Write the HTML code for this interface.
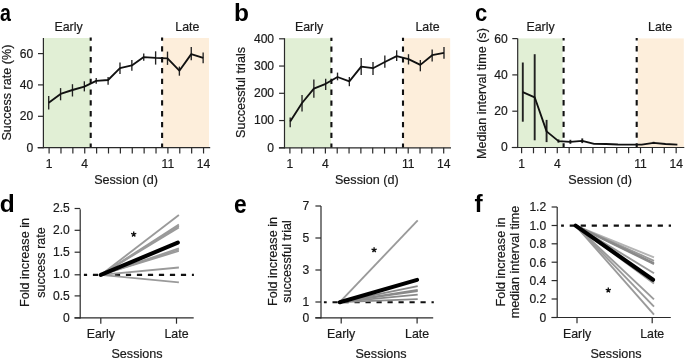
<!DOCTYPE html><html><head><meta charset="utf-8"><style>html,body{margin:0;padding:0;background:#fff;}svg{display:block;will-change:transform;}text{font-family:"Liberation Sans", sans-serif;stroke:#1a1a1a;stroke-width:0.2px;}text.L{stroke:none;}</style></head><body>
<svg width="685" height="361" viewBox="0 0 685 361">
<rect width="685" height="361" fill="#fff"/>
<rect x="43.90" y="38.00" width="46.50" height="109.70" fill="#e1efd5"/>
<rect x="162.60" y="38.00" width="46.40" height="109.70" fill="#fdeedb"/>
<line x1="90.70" y1="147.70" x2="90.70" y2="37.50" stroke="#111" stroke-width="2.1" stroke-dasharray="5.3 5.5" stroke-dashoffset="1.1"/>
<line x1="162.10" y1="147.70" x2="162.10" y2="37.50" stroke="#111" stroke-width="2.1" stroke-dasharray="5.3 5.5" stroke-dashoffset="1.1"/>
<line x1="43.40" y1="38.00" x2="43.40" y2="148.30" stroke="#2a2a2a" stroke-width="1.2" />
<line x1="37.60" y1="147.70" x2="210.20" y2="147.70" stroke="#2a2a2a" stroke-width="1.2" />
<line x1="38.00" y1="147.70" x2="43.40" y2="147.70" stroke="#2a2a2a" stroke-width="1.2" />
<text x="33.20" y="151.60" font-size="12.1" text-anchor="end" font-weight="normal" fill="#1a1a1a" >0</text>
<line x1="38.00" y1="116.30" x2="43.40" y2="116.30" stroke="#2a2a2a" stroke-width="1.2" />
<text x="33.20" y="120.20" font-size="12.1" text-anchor="end" font-weight="normal" fill="#1a1a1a" >20</text>
<line x1="38.00" y1="84.90" x2="43.40" y2="84.90" stroke="#2a2a2a" stroke-width="1.2" />
<text x="33.20" y="88.80" font-size="12.1" text-anchor="end" font-weight="normal" fill="#1a1a1a" >40</text>
<line x1="38.00" y1="53.60" x2="43.40" y2="53.60" stroke="#2a2a2a" stroke-width="1.2" />
<text x="33.20" y="57.50" font-size="12.1" text-anchor="end" font-weight="normal" fill="#1a1a1a" >60</text>
<line x1="49.10" y1="147.70" x2="49.10" y2="153.50" stroke="#2a2a2a" stroke-width="1.2" />
<line x1="60.98" y1="147.70" x2="60.98" y2="153.50" stroke="#2a2a2a" stroke-width="1.2" />
<line x1="72.86" y1="147.70" x2="72.86" y2="153.50" stroke="#2a2a2a" stroke-width="1.2" />
<line x1="84.74" y1="147.70" x2="84.74" y2="153.50" stroke="#2a2a2a" stroke-width="1.2" />
<line x1="96.62" y1="147.70" x2="96.62" y2="153.50" stroke="#2a2a2a" stroke-width="1.2" />
<line x1="108.50" y1="147.70" x2="108.50" y2="153.50" stroke="#2a2a2a" stroke-width="1.2" />
<line x1="120.38" y1="147.70" x2="120.38" y2="153.50" stroke="#2a2a2a" stroke-width="1.2" />
<line x1="132.26" y1="147.70" x2="132.26" y2="153.50" stroke="#2a2a2a" stroke-width="1.2" />
<line x1="144.14" y1="147.70" x2="144.14" y2="153.50" stroke="#2a2a2a" stroke-width="1.2" />
<line x1="156.02" y1="147.70" x2="156.02" y2="153.50" stroke="#2a2a2a" stroke-width="1.2" />
<line x1="167.90" y1="147.70" x2="167.90" y2="153.50" stroke="#2a2a2a" stroke-width="1.2" />
<line x1="179.78" y1="147.70" x2="179.78" y2="153.50" stroke="#2a2a2a" stroke-width="1.2" />
<line x1="191.66" y1="147.70" x2="191.66" y2="153.50" stroke="#2a2a2a" stroke-width="1.2" />
<line x1="203.54" y1="147.70" x2="203.54" y2="153.50" stroke="#2a2a2a" stroke-width="1.2" />
<text x="49.10" y="168.10" font-size="12.1" text-anchor="middle" font-weight="normal" fill="#1a1a1a" >1</text>
<text x="84.74" y="168.10" font-size="12.1" text-anchor="middle" font-weight="normal" fill="#1a1a1a" >4</text>
<text x="167.90" y="168.10" font-size="12.1" text-anchor="middle" font-weight="normal" fill="#1a1a1a" >11</text>
<text x="203.54" y="168.10" font-size="12.1" text-anchor="middle" font-weight="normal" fill="#1a1a1a" >14</text>
<text x="126.00" y="183.80" font-size="12.6" text-anchor="middle" font-weight="normal" fill="#1a1a1a" >Session (d)</text>
<text transform="translate(10.80,92.60) rotate(-90)" font-size="12.6" text-anchor="middle" fill="#1a1a1a">Success rate (%)</text>
<text x="68.60" y="31.00" font-size="12.4" text-anchor="middle" font-weight="normal" fill="#1a1a1a" >Early</text>
<text x="187.40" y="31.00" font-size="12.4" text-anchor="middle" font-weight="normal" fill="#1a1a1a" >Late</text>
<line x1="48.70" y1="95.90" x2="48.70" y2="109.50" stroke="#222" stroke-width="1.35" />
<line x1="60.58" y1="88.10" x2="60.58" y2="100.30" stroke="#222" stroke-width="1.35" />
<line x1="72.46" y1="84.20" x2="72.46" y2="96.50" stroke="#222" stroke-width="1.35" />
<line x1="84.34" y1="81.30" x2="84.34" y2="91.40" stroke="#222" stroke-width="1.35" />
<line x1="96.22" y1="78.00" x2="96.22" y2="83.70" stroke="#222" stroke-width="1.35" />
<line x1="108.10" y1="77.00" x2="108.10" y2="84.80" stroke="#222" stroke-width="1.35" />
<line x1="119.98" y1="62.40" x2="119.98" y2="74.00" stroke="#222" stroke-width="1.35" />
<line x1="131.86" y1="59.90" x2="131.86" y2="70.70" stroke="#222" stroke-width="1.35" />
<line x1="143.74" y1="53.60" x2="143.74" y2="60.70" stroke="#222" stroke-width="1.35" />
<line x1="155.62" y1="51.30" x2="155.62" y2="64.60" stroke="#222" stroke-width="1.35" />
<line x1="167.50" y1="51.60" x2="167.50" y2="64.90" stroke="#222" stroke-width="1.35" />
<line x1="179.38" y1="66.60" x2="179.38" y2="75.70" stroke="#222" stroke-width="1.35" />
<line x1="191.26" y1="47.00" x2="191.26" y2="60.20" stroke="#222" stroke-width="1.35" />
<line x1="203.14" y1="52.40" x2="203.14" y2="63.20" stroke="#222" stroke-width="1.35" />
<polyline points="48.70,102.80 60.58,93.90 72.46,90.00 84.34,86.60 96.22,80.80 108.10,80.00 119.98,68.20 131.86,65.40 143.74,57.10 155.62,57.90 167.50,58.30 179.38,70.70 191.26,54.10 203.14,57.90" fill="none" stroke="#111" stroke-width="1.85" stroke-linejoin="round" />
<text transform="translate(0.1,20.6) scale(0.8,1.0)" font-size="24.5" font-weight="bold" fill="#000" class="L">a</text>
<rect x="285.00" y="38.20" width="46.10" height="109.60" fill="#e1efd5"/>
<rect x="403.50" y="38.20" width="46.70" height="109.60" fill="#fdeedb"/>
<line x1="331.40" y1="147.80" x2="331.40" y2="37.70" stroke="#111" stroke-width="2.1" stroke-dasharray="5.3 5.5" stroke-dashoffset="1.1"/>
<line x1="403.00" y1="147.80" x2="403.00" y2="37.70" stroke="#111" stroke-width="2.1" stroke-dasharray="5.3 5.5" stroke-dashoffset="1.1"/>
<line x1="284.50" y1="38.20" x2="284.50" y2="148.40" stroke="#2a2a2a" stroke-width="1.2" />
<line x1="278.90" y1="147.80" x2="451.00" y2="147.80" stroke="#2a2a2a" stroke-width="1.2" />
<line x1="279.10" y1="147.80" x2="284.50" y2="147.80" stroke="#2a2a2a" stroke-width="1.2" />
<text x="274.10" y="151.70" font-size="12.1" text-anchor="end" font-weight="normal" fill="#1a1a1a" >0</text>
<line x1="279.10" y1="120.55" x2="284.50" y2="120.55" stroke="#2a2a2a" stroke-width="1.2" />
<text x="274.10" y="124.45" font-size="12.1" text-anchor="end" font-weight="normal" fill="#1a1a1a" >100</text>
<line x1="279.10" y1="93.30" x2="284.50" y2="93.30" stroke="#2a2a2a" stroke-width="1.2" />
<text x="274.10" y="97.20" font-size="12.1" text-anchor="end" font-weight="normal" fill="#1a1a1a" >200</text>
<line x1="279.10" y1="66.05" x2="284.50" y2="66.05" stroke="#2a2a2a" stroke-width="1.2" />
<text x="274.10" y="69.95" font-size="12.1" text-anchor="end" font-weight="normal" fill="#1a1a1a" >300</text>
<line x1="279.10" y1="38.80" x2="284.50" y2="38.80" stroke="#2a2a2a" stroke-width="1.2" />
<text x="274.10" y="42.70" font-size="12.1" text-anchor="end" font-weight="normal" fill="#1a1a1a" >400</text>
<line x1="289.90" y1="147.80" x2="289.90" y2="153.60" stroke="#2a2a2a" stroke-width="1.2" />
<line x1="301.73" y1="147.80" x2="301.73" y2="153.60" stroke="#2a2a2a" stroke-width="1.2" />
<line x1="313.56" y1="147.80" x2="313.56" y2="153.60" stroke="#2a2a2a" stroke-width="1.2" />
<line x1="325.39" y1="147.80" x2="325.39" y2="153.60" stroke="#2a2a2a" stroke-width="1.2" />
<line x1="337.22" y1="147.80" x2="337.22" y2="153.60" stroke="#2a2a2a" stroke-width="1.2" />
<line x1="349.05" y1="147.80" x2="349.05" y2="153.60" stroke="#2a2a2a" stroke-width="1.2" />
<line x1="360.88" y1="147.80" x2="360.88" y2="153.60" stroke="#2a2a2a" stroke-width="1.2" />
<line x1="372.71" y1="147.80" x2="372.71" y2="153.60" stroke="#2a2a2a" stroke-width="1.2" />
<line x1="384.54" y1="147.80" x2="384.54" y2="153.60" stroke="#2a2a2a" stroke-width="1.2" />
<line x1="396.37" y1="147.80" x2="396.37" y2="153.60" stroke="#2a2a2a" stroke-width="1.2" />
<line x1="408.20" y1="147.80" x2="408.20" y2="153.60" stroke="#2a2a2a" stroke-width="1.2" />
<line x1="420.03" y1="147.80" x2="420.03" y2="153.60" stroke="#2a2a2a" stroke-width="1.2" />
<line x1="431.86" y1="147.80" x2="431.86" y2="153.60" stroke="#2a2a2a" stroke-width="1.2" />
<line x1="443.69" y1="147.80" x2="443.69" y2="153.60" stroke="#2a2a2a" stroke-width="1.2" />
<text x="289.90" y="168.20" font-size="12.1" text-anchor="middle" font-weight="normal" fill="#1a1a1a" >1</text>
<text x="325.39" y="168.20" font-size="12.1" text-anchor="middle" font-weight="normal" fill="#1a1a1a" >4</text>
<text x="408.20" y="168.20" font-size="12.1" text-anchor="middle" font-weight="normal" fill="#1a1a1a" >11</text>
<text x="443.69" y="168.20" font-size="12.1" text-anchor="middle" font-weight="normal" fill="#1a1a1a" >14</text>
<text x="366.80" y="183.80" font-size="12.6" text-anchor="middle" font-weight="normal" fill="#1a1a1a" >Session (d)</text>
<text transform="translate(244.60,92.50) rotate(-90)" font-size="12.6" text-anchor="middle" fill="#1a1a1a">Successful trials</text>
<text x="309.00" y="31.00" font-size="12.4" text-anchor="middle" font-weight="normal" fill="#1a1a1a" >Early</text>
<text x="427.50" y="31.00" font-size="12.4" text-anchor="middle" font-weight="normal" fill="#1a1a1a" >Late</text>
<line x1="290.20" y1="117.50" x2="290.20" y2="127.30" stroke="#222" stroke-width="1.35" />
<line x1="302.03" y1="94.90" x2="302.03" y2="111.40" stroke="#222" stroke-width="1.35" />
<line x1="313.86" y1="79.40" x2="313.86" y2="97.80" stroke="#222" stroke-width="1.35" />
<line x1="325.69" y1="78.80" x2="325.69" y2="90.00" stroke="#222" stroke-width="1.35" />
<line x1="337.52" y1="72.60" x2="337.52" y2="80.30" stroke="#222" stroke-width="1.35" />
<line x1="349.35" y1="77.00" x2="349.35" y2="86.20" stroke="#222" stroke-width="1.35" />
<line x1="361.18" y1="58.10" x2="361.18" y2="75.00" stroke="#222" stroke-width="1.35" />
<line x1="373.01" y1="62.00" x2="373.01" y2="75.00" stroke="#222" stroke-width="1.35" />
<line x1="384.84" y1="55.60" x2="384.84" y2="67.80" stroke="#222" stroke-width="1.35" />
<line x1="396.67" y1="50.30" x2="396.67" y2="61.00" stroke="#222" stroke-width="1.35" />
<line x1="408.50" y1="54.20" x2="408.50" y2="64.50" stroke="#222" stroke-width="1.35" />
<line x1="420.33" y1="60.00" x2="420.33" y2="71.30" stroke="#222" stroke-width="1.35" />
<line x1="432.16" y1="49.40" x2="432.16" y2="61.40" stroke="#222" stroke-width="1.35" />
<line x1="443.99" y1="47.00" x2="443.99" y2="58.70" stroke="#222" stroke-width="1.35" />
<polyline points="290.20,121.50 302.03,103.00 313.86,88.70 325.69,83.80 337.52,77.00 349.35,81.30 361.18,66.60 373.01,68.20 384.84,62.00 396.67,56.20 408.50,59.10 420.33,64.90 432.16,55.20 443.99,52.90" fill="none" stroke="#111" stroke-width="1.85" stroke-linejoin="round" />
<text transform="translate(234.0,20.6) scale(1,1)" font-size="24.5" font-weight="bold" fill="#000" class="L">b</text>
<rect x="518.20" y="38.40" width="44.40" height="109.10" fill="#e1efd5"/>
<rect x="637.70" y="38.40" width="46.10" height="109.10" fill="#fdeedb"/>
<line x1="563.60" y1="147.50" x2="563.60" y2="37.90" stroke="#111" stroke-width="2.1" stroke-dasharray="5.3 5.5" stroke-dashoffset="1.1"/>
<line x1="636.70" y1="147.50" x2="636.70" y2="37.90" stroke="#111" stroke-width="2.1" stroke-dasharray="5.3 5.5" stroke-dashoffset="1.1"/>
<line x1="517.70" y1="38.40" x2="517.70" y2="148.10" stroke="#2a2a2a" stroke-width="1.2" />
<line x1="511.80" y1="147.50" x2="684.30" y2="147.50" stroke="#2a2a2a" stroke-width="1.2" />
<line x1="512.30" y1="147.50" x2="517.70" y2="147.50" stroke="#2a2a2a" stroke-width="1.2" />
<text x="507.70" y="151.40" font-size="12.1" text-anchor="end" font-weight="normal" fill="#1a1a1a" >0</text>
<line x1="512.30" y1="111.20" x2="517.70" y2="111.20" stroke="#2a2a2a" stroke-width="1.2" />
<text x="507.70" y="115.10" font-size="12.1" text-anchor="end" font-weight="normal" fill="#1a1a1a" >20</text>
<line x1="512.30" y1="74.90" x2="517.70" y2="74.90" stroke="#2a2a2a" stroke-width="1.2" />
<text x="507.70" y="78.80" font-size="12.1" text-anchor="end" font-weight="normal" fill="#1a1a1a" >40</text>
<line x1="512.30" y1="38.60" x2="517.70" y2="38.60" stroke="#2a2a2a" stroke-width="1.2" />
<text x="507.70" y="42.50" font-size="12.1" text-anchor="end" font-weight="normal" fill="#1a1a1a" >60</text>
<line x1="521.60" y1="147.50" x2="521.60" y2="153.30" stroke="#2a2a2a" stroke-width="1.2" />
<line x1="533.49" y1="147.50" x2="533.49" y2="153.30" stroke="#2a2a2a" stroke-width="1.2" />
<line x1="545.38" y1="147.50" x2="545.38" y2="153.30" stroke="#2a2a2a" stroke-width="1.2" />
<line x1="557.27" y1="147.50" x2="557.27" y2="153.30" stroke="#2a2a2a" stroke-width="1.2" />
<line x1="569.16" y1="147.50" x2="569.16" y2="153.30" stroke="#2a2a2a" stroke-width="1.2" />
<line x1="581.05" y1="147.50" x2="581.05" y2="153.30" stroke="#2a2a2a" stroke-width="1.2" />
<line x1="592.94" y1="147.50" x2="592.94" y2="153.30" stroke="#2a2a2a" stroke-width="1.2" />
<line x1="604.83" y1="147.50" x2="604.83" y2="153.30" stroke="#2a2a2a" stroke-width="1.2" />
<line x1="616.72" y1="147.50" x2="616.72" y2="153.30" stroke="#2a2a2a" stroke-width="1.2" />
<line x1="628.61" y1="147.50" x2="628.61" y2="153.30" stroke="#2a2a2a" stroke-width="1.2" />
<line x1="640.50" y1="147.50" x2="640.50" y2="153.30" stroke="#2a2a2a" stroke-width="1.2" />
<line x1="652.39" y1="147.50" x2="652.39" y2="153.30" stroke="#2a2a2a" stroke-width="1.2" />
<line x1="664.28" y1="147.50" x2="664.28" y2="153.30" stroke="#2a2a2a" stroke-width="1.2" />
<line x1="676.17" y1="147.50" x2="676.17" y2="153.30" stroke="#2a2a2a" stroke-width="1.2" />
<text x="521.60" y="167.90" font-size="12.1" text-anchor="middle" font-weight="normal" fill="#1a1a1a" >1</text>
<text x="557.27" y="167.90" font-size="12.1" text-anchor="middle" font-weight="normal" fill="#1a1a1a" >4</text>
<text x="640.50" y="167.90" font-size="12.1" text-anchor="middle" font-weight="normal" fill="#1a1a1a" >11</text>
<text x="676.17" y="167.90" font-size="12.1" text-anchor="middle" font-weight="normal" fill="#1a1a1a" >14</text>
<text x="600.10" y="183.80" font-size="12.6" text-anchor="middle" font-weight="normal" fill="#1a1a1a" >Session (d)</text>
<text transform="translate(486.00,93.60) rotate(-90)" font-size="12.6" text-anchor="middle" fill="#1a1a1a">Median interval time (s)</text>
<text x="540.60" y="31.00" font-size="12.4" text-anchor="middle" font-weight="normal" fill="#1a1a1a" >Early</text>
<text x="660.10" y="31.00" font-size="12.4" text-anchor="middle" font-weight="normal" fill="#1a1a1a" >Late</text>
<line x1="522.80" y1="62.50" x2="522.80" y2="121.70" stroke="#222" stroke-width="1.9" />
<line x1="534.69" y1="54.20" x2="534.69" y2="140.30" stroke="#222" stroke-width="1.9" />
<line x1="546.58" y1="119.90" x2="546.58" y2="142.10" stroke="#222" stroke-width="1.9" />
<line x1="558.47" y1="139.40" x2="558.47" y2="142.70" stroke="#222" stroke-width="1.9" />
<line x1="570.36" y1="139.80" x2="570.36" y2="143.80" stroke="#222" stroke-width="1.9" />
<line x1="582.25" y1="138.40" x2="582.25" y2="143.10" stroke="#222" stroke-width="1.9" />
<line x1="653.59" y1="141.80" x2="653.59" y2="144.00" stroke="#222" stroke-width="1.9" />
<polyline points="522.80,92.20 534.69,97.30 546.58,131.40 558.47,141.10 570.36,141.90 582.25,140.80 594.14,143.90 606.03,144.00 617.92,144.50 629.81,144.60 641.70,144.60 653.59,142.90 665.48,144.00 677.37,144.60" fill="none" stroke="#111" stroke-width="1.85" stroke-linejoin="round" />
<text transform="translate(474.9,20.6) scale(0.9,1.0)" font-size="24.5" font-weight="bold" fill="#000" class="L">c</text>
<line x1="80.20" y1="209.20" x2="80.20" y2="318.50" stroke="#2a2a2a" stroke-width="1.2" />
<line x1="74.50" y1="317.90" x2="193.70" y2="317.90" stroke="#2a2a2a" stroke-width="1.2" />
<line x1="74.60" y1="317.90" x2="80.20" y2="317.90" stroke="#2a2a2a" stroke-width="1.2" />
<text x="69.80" y="322.00" font-size="12.1" text-anchor="end" font-weight="normal" fill="#1a1a1a" >0</text>
<line x1="74.60" y1="295.90" x2="80.20" y2="295.90" stroke="#2a2a2a" stroke-width="1.2" />
<text x="69.80" y="300.30" font-size="12.1" text-anchor="end" font-weight="normal" fill="#1a1a1a" >0.5</text>
<line x1="74.60" y1="274.80" x2="80.20" y2="274.80" stroke="#2a2a2a" stroke-width="1.2" />
<text x="69.80" y="277.90" font-size="12.1" text-anchor="end" font-weight="normal" fill="#1a1a1a" >1.0</text>
<line x1="74.60" y1="252.20" x2="80.20" y2="252.20" stroke="#2a2a2a" stroke-width="1.2" />
<text x="69.80" y="255.90" font-size="12.1" text-anchor="end" font-weight="normal" fill="#1a1a1a" >1.5</text>
<line x1="74.60" y1="230.30" x2="80.20" y2="230.30" stroke="#2a2a2a" stroke-width="1.2" />
<text x="69.80" y="234.00" font-size="12.1" text-anchor="end" font-weight="normal" fill="#1a1a1a" >2.0</text>
<line x1="74.60" y1="208.50" x2="80.20" y2="208.50" stroke="#2a2a2a" stroke-width="1.2" />
<text x="69.80" y="212.10" font-size="12.1" text-anchor="end" font-weight="normal" fill="#1a1a1a" >2.5</text>
<line x1="100.80" y1="317.90" x2="100.80" y2="323.70" stroke="#2a2a2a" stroke-width="1.2" />
<line x1="176.50" y1="317.90" x2="176.50" y2="323.70" stroke="#2a2a2a" stroke-width="1.2" />
<text x="100.80" y="338.30" font-size="12.4" text-anchor="middle" font-weight="normal" fill="#1a1a1a" >Early</text>
<text x="176.50" y="338.30" font-size="12.4" text-anchor="middle" font-weight="normal" fill="#1a1a1a" >Late</text>
<text x="137.00" y="357.60" font-size="12.6" text-anchor="middle" font-weight="normal" fill="#1a1a1a" >Sessions</text>
<text transform="translate(29.40,262.50) rotate(-90)" font-size="12.6" text-anchor="middle" fill="#1a1a1a">Fold increase in</text>
<text transform="translate(44.60,262.50) rotate(-90)" font-size="12.6" text-anchor="middle" fill="#1a1a1a">success rate</text>
<line x1="83.90" y1="274.90" x2="193.90" y2="274.90" stroke="#111" stroke-width="2.1" stroke-dasharray="5.2 5.8" stroke-dashoffset="2.0"/>
<line x1="100.80" y1="274.90" x2="178.90" y2="215.00" stroke="#9a9a9a" stroke-width="1.85" stroke-linecap="butt"/>
<line x1="100.80" y1="274.90" x2="178.90" y2="224.60" stroke="#9a9a9a" stroke-width="1.8" stroke-linecap="butt"/>
<line x1="100.80" y1="274.90" x2="178.90" y2="226.00" stroke="#9a9a9a" stroke-width="1.8" stroke-linecap="butt"/>
<line x1="100.80" y1="274.90" x2="178.90" y2="227.40" stroke="#9a9a9a" stroke-width="1.8" stroke-linecap="butt"/>
<line x1="100.80" y1="274.90" x2="178.90" y2="248.40" stroke="#9a9a9a" stroke-width="1.7" stroke-linecap="butt"/>
<line x1="100.80" y1="274.90" x2="178.90" y2="249.80" stroke="#9a9a9a" stroke-width="1.7" stroke-linecap="butt"/>
<line x1="100.80" y1="274.90" x2="178.90" y2="251.00" stroke="#9a9a9a" stroke-width="1.7" stroke-linecap="butt"/>
<line x1="100.80" y1="274.90" x2="178.90" y2="267.50" stroke="#9a9a9a" stroke-width="1.85" stroke-linecap="butt"/>
<line x1="100.80" y1="274.90" x2="178.90" y2="282.30" stroke="#9a9a9a" stroke-width="1.85" stroke-linecap="butt"/>
<line x1="100.80" y1="274.90" x2="177.80" y2="242.60" stroke="#000" stroke-width="4.1" stroke-linecap="round"/>
<path d="M133.70,234.30L133.70,231.60M133.70,234.30L136.27,233.47M133.70,234.30L135.29,236.48M133.70,234.30L132.11,236.48M133.70,234.30L131.13,233.47" stroke="#111" stroke-width="1.35" stroke-linecap="butt" fill="none"/>
<text transform="translate(-0.2,212.0) scale(1,1)" font-size="24.5" font-weight="bold" fill="#000" class="L">d</text>
<line x1="321.00" y1="206.00" x2="321.00" y2="318.40" stroke="#2a2a2a" stroke-width="1.2" />
<line x1="315.30" y1="317.80" x2="433.20" y2="317.80" stroke="#2a2a2a" stroke-width="1.2" />
<line x1="315.40" y1="317.80" x2="321.00" y2="317.80" stroke="#2a2a2a" stroke-width="1.2" />
<text x="309.20" y="322.10" font-size="12.1" text-anchor="end" font-weight="normal" fill="#1a1a1a" >0</text>
<line x1="315.40" y1="302.00" x2="321.00" y2="302.00" stroke="#2a2a2a" stroke-width="1.2" />
<text x="309.20" y="306.30" font-size="12.1" text-anchor="end" font-weight="normal" fill="#1a1a1a" >1</text>
<line x1="315.40" y1="270.00" x2="321.00" y2="270.00" stroke="#2a2a2a" stroke-width="1.2" />
<text x="309.20" y="274.30" font-size="12.1" text-anchor="end" font-weight="normal" fill="#1a1a1a" >3</text>
<line x1="315.40" y1="238.00" x2="321.00" y2="238.00" stroke="#2a2a2a" stroke-width="1.2" />
<text x="309.20" y="242.30" font-size="12.1" text-anchor="end" font-weight="normal" fill="#1a1a1a" >5</text>
<line x1="315.40" y1="206.00" x2="321.00" y2="206.00" stroke="#2a2a2a" stroke-width="1.2" />
<text x="309.20" y="210.30" font-size="12.1" text-anchor="end" font-weight="normal" fill="#1a1a1a" >7</text>
<line x1="341.20" y1="317.80" x2="341.20" y2="323.60" stroke="#2a2a2a" stroke-width="1.2" />
<line x1="417.10" y1="317.80" x2="417.10" y2="323.60" stroke="#2a2a2a" stroke-width="1.2" />
<text x="341.20" y="338.30" font-size="12.4" text-anchor="middle" font-weight="normal" fill="#1a1a1a" >Early</text>
<text x="417.10" y="338.30" font-size="12.4" text-anchor="middle" font-weight="normal" fill="#1a1a1a" >Late</text>
<text x="381.00" y="357.60" font-size="12.6" text-anchor="middle" font-weight="normal" fill="#1a1a1a" >Sessions</text>
<text transform="translate(276.50,261.50) rotate(-90)" font-size="12.6" text-anchor="middle" fill="#1a1a1a">Fold increase in</text>
<text transform="translate(291.00,261.50) rotate(-90)" font-size="12.6" text-anchor="middle" fill="#1a1a1a">successful trial</text>
<line x1="323.90" y1="302.20" x2="433.80" y2="302.20" stroke="#111" stroke-width="2.1" stroke-dasharray="5.2 5.8" stroke-dashoffset="2.4"/>
<line x1="339.80" y1="302.20" x2="417.70" y2="220.30" stroke="#9a9a9a" stroke-width="1.85" stroke-linecap="butt"/>
<line x1="339.80" y1="302.20" x2="417.70" y2="286.20" stroke="#8a8a8a" stroke-width="1.8" stroke-linecap="butt"/>
<line x1="339.80" y1="302.20" x2="417.70" y2="289.80" stroke="#8a8a8a" stroke-width="1.8" stroke-linecap="butt"/>
<line x1="339.80" y1="302.20" x2="417.70" y2="291.00" stroke="#8a8a8a" stroke-width="1.8" stroke-linecap="butt"/>
<line x1="339.80" y1="302.20" x2="417.70" y2="294.70" stroke="#8a8a8a" stroke-width="1.8" stroke-linecap="butt"/>
<line x1="339.80" y1="302.20" x2="417.70" y2="299.20" stroke="#8a8a8a" stroke-width="1.8" stroke-linecap="butt"/>
<line x1="339.80" y1="302.20" x2="417.10" y2="279.90" stroke="#000" stroke-width="4.1" stroke-linecap="round"/>
<path d="M374.10,250.00L374.10,247.30M374.10,250.00L376.67,249.17M374.10,250.00L375.69,252.18M374.10,250.00L372.51,252.18M374.10,250.00L371.53,249.17" stroke="#111" stroke-width="1.35" stroke-linecap="butt" fill="none"/>
<text transform="translate(234.0,212.6) scale(0.93,1.05)" font-size="24.5" font-weight="bold" fill="#000" class="L">e</text>
<line x1="557.20" y1="207.00" x2="557.20" y2="318.10" stroke="#2a2a2a" stroke-width="1.2" />
<line x1="551.60" y1="317.50" x2="670.80" y2="317.50" stroke="#2a2a2a" stroke-width="1.2" />
<line x1="551.60" y1="317.50" x2="557.20" y2="317.50" stroke="#2a2a2a" stroke-width="1.2" />
<text x="546.20" y="321.80" font-size="12.1" text-anchor="end" font-weight="normal" fill="#1a1a1a" >0</text>
<line x1="551.60" y1="299.00" x2="557.20" y2="299.00" stroke="#2a2a2a" stroke-width="1.2" />
<text x="546.20" y="303.30" font-size="12.1" text-anchor="end" font-weight="normal" fill="#1a1a1a" >0.2</text>
<line x1="551.60" y1="280.60" x2="557.20" y2="280.60" stroke="#2a2a2a" stroke-width="1.2" />
<text x="546.20" y="284.90" font-size="12.1" text-anchor="end" font-weight="normal" fill="#1a1a1a" >0.4</text>
<line x1="551.60" y1="262.20" x2="557.20" y2="262.20" stroke="#2a2a2a" stroke-width="1.2" />
<text x="546.20" y="266.50" font-size="12.1" text-anchor="end" font-weight="normal" fill="#1a1a1a" >0.6</text>
<line x1="551.60" y1="243.80" x2="557.20" y2="243.80" stroke="#2a2a2a" stroke-width="1.2" />
<text x="546.20" y="248.10" font-size="12.1" text-anchor="end" font-weight="normal" fill="#1a1a1a" >0.8</text>
<line x1="551.60" y1="225.50" x2="557.20" y2="225.50" stroke="#2a2a2a" stroke-width="1.2" />
<text x="546.20" y="229.80" font-size="12.1" text-anchor="end" font-weight="normal" fill="#1a1a1a" >1.0</text>
<line x1="551.60" y1="207.00" x2="557.20" y2="207.00" stroke="#2a2a2a" stroke-width="1.2" />
<text x="546.20" y="211.30" font-size="12.1" text-anchor="end" font-weight="normal" fill="#1a1a1a" >1.2</text>
<line x1="577.00" y1="317.50" x2="577.00" y2="323.30" stroke="#2a2a2a" stroke-width="1.2" />
<line x1="652.20" y1="317.50" x2="652.20" y2="323.30" stroke="#2a2a2a" stroke-width="1.2" />
<text x="577.00" y="338.30" font-size="12.4" text-anchor="middle" font-weight="normal" fill="#1a1a1a" >Early</text>
<text x="652.20" y="338.30" font-size="12.4" text-anchor="middle" font-weight="normal" fill="#1a1a1a" >Late</text>
<text x="616.00" y="357.60" font-size="12.6" text-anchor="middle" font-weight="normal" fill="#1a1a1a" >Sessions</text>
<text transform="translate(504.60,262.00) rotate(-90)" font-size="12.6" text-anchor="middle" fill="#1a1a1a">Fold increase in</text>
<text transform="translate(518.80,262.00) rotate(-90)" font-size="12.6" text-anchor="middle" fill="#1a1a1a">median interval time</text>
<line x1="561.10" y1="225.60" x2="671.00" y2="225.60" stroke="#111" stroke-width="2.1" stroke-dasharray="5.2 5.8" stroke-dashoffset="2.4"/>
<line x1="575.60" y1="225.60" x2="654.00" y2="257.40" stroke="#b5b5b5" stroke-width="1.9" stroke-linecap="butt"/>
<line x1="575.60" y1="225.60" x2="654.00" y2="260.80" stroke="#9a9a9a" stroke-width="1.9" stroke-linecap="butt"/>
<line x1="575.60" y1="225.60" x2="654.00" y2="263.00" stroke="#8a8a8a" stroke-width="1.9" stroke-linecap="butt"/>
<line x1="575.60" y1="225.60" x2="654.00" y2="264.20" stroke="#8a8a8a" stroke-width="1.9" stroke-linecap="butt"/>
<line x1="575.60" y1="225.60" x2="654.00" y2="273.20" stroke="#9a9a9a" stroke-width="1.9" stroke-linecap="butt"/>
<line x1="575.60" y1="225.60" x2="654.00" y2="283.50" stroke="#9a9a9a" stroke-width="1.9" stroke-linecap="butt"/>
<line x1="575.60" y1="225.60" x2="654.00" y2="299.40" stroke="#9a9a9a" stroke-width="1.9" stroke-linecap="butt"/>
<line x1="575.60" y1="225.60" x2="654.00" y2="306.60" stroke="#9a9a9a" stroke-width="1.9" stroke-linecap="butt"/>
<line x1="575.60" y1="225.60" x2="654.00" y2="314.70" stroke="#9a9a9a" stroke-width="1.9" stroke-linecap="butt"/>
<line x1="575.60" y1="225.60" x2="653.00" y2="279.80" stroke="#000" stroke-width="4.1" stroke-linecap="round"/>
<path d="M608.30,290.10L608.30,287.40M608.30,290.10L610.87,289.27M608.30,290.10L609.89,292.28M608.30,290.10L606.71,292.28M608.30,290.10L605.73,289.27" stroke="#111" stroke-width="1.35" stroke-linecap="butt" fill="none"/>
<text transform="translate(474.6,212.4) scale(1,1)" font-size="24.5" font-weight="bold" fill="#000" class="L">f</text>
</svg></body></html>
